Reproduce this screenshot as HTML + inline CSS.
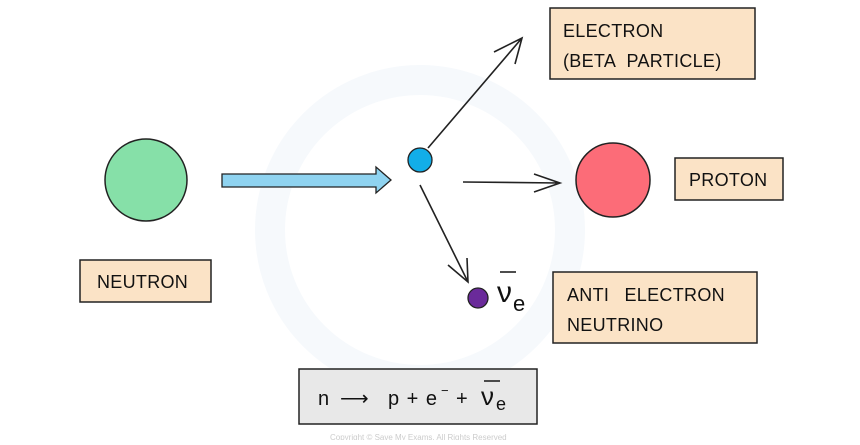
<!DOCTYPE html>
<html><head><style>
body{margin:0;width:860px;height:440px;background:#fff;overflow:hidden;font-family:"Liberation Sans",sans-serif;}
</style></head><body>
<svg width="860" height="440" viewBox="0 0 860 440" xmlns="http://www.w3.org/2000/svg" font-family="Liberation Sans, sans-serif">
<circle cx="420" cy="230" r="150" fill="none" stroke="#f6f9fc" stroke-width="30"/>
<g stroke="#222" stroke-width="1.5" fill="#fbe3c6">
<rect x="550" y="8" width="205" height="71"/>
<rect x="675" y="158" width="108" height="42"/>
<rect x="553" y="272" width="204" height="71"/>
<rect x="80" y="260" width="131" height="42"/>
<rect x="299" y="369" width="238" height="55" fill="#e8e8e8"/>
</g>
<g font-size="18" fill="#111" letter-spacing="0.3">
<text x="563" y="37">ELECTRON</text>
<text x="563" y="67" word-spacing="6">(BETA PARTICLE)</text>
<text x="689" y="186">PROTON</text>
<text x="567" y="301" word-spacing="10">ANTI ELECTRON</text>
<text x="567" y="331">NEUTRINO</text>
<text x="97" y="288">NEUTRON</text>
</g>
<circle cx="146" cy="180" r="41" fill="#86e0a8" stroke="#222" stroke-width="1.5"/>
<path d="M222 174 L376 174 L376 167 L391 180 L376 193 L376 187 L222 187 Z" fill="#8fd3f0" stroke="#222" stroke-width="1.3"/>
<circle cx="420" cy="160" r="12" fill="#12aee8" stroke="#222" stroke-width="1.3"/>
<circle cx="613" cy="180" r="37" fill="#fc6c78" stroke="#222" stroke-width="1.5"/>
<circle cx="478" cy="298" r="10" fill="#6a2a9a" stroke="#222" stroke-width="1.3"/>
<g stroke="#222" stroke-width="1.6" fill="none">
<path d="M428 148 L522 38 M494 52 L522 38 L515 64"/>
<path d="M463 182 L560 183 M534 174 L560 183 L534 192"/>
<path d="M420 185 L468 282 M448 265 L468 282 L467 258"/>
<path d="M500 272 L516 272"/>
<path d="M484 381 L500 381"/>
</g>
<text x="497" y="302" font-size="30" fill="#111">ν</text>
<text x="513" y="311" font-size="22" fill="#111">e</text>
<g fill="#111" font-size="20">
<text x="318" y="405">n</text>
<text x="340" y="405">⟶</text>
<text x="388" y="405" word-spacing="2">p + e</text>
<text x="441" y="395" font-size="13">−</text>
<text x="456" y="405">+</text>
<text x="481" y="405" font-size="26">ν</text>
<text x="496" y="410" font-size="18">e</text>
</g>
<text x="330" y="440" font-size="8" fill="#ccc">Copyright © Save My Exams. All Rights Reserved</text>
</svg>
</body></html>
